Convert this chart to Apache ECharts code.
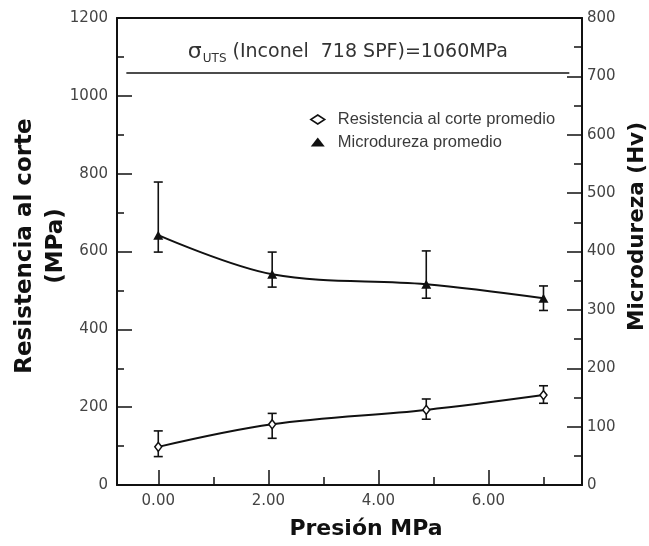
<!DOCTYPE html>
<html>
<head>
<meta charset="utf-8">
<script src="https://cdn.jsdelivr.net/npm/echarts@6/dist/echarts.min.js"></script>
<style>html,body{margin:0;padding:0;background:#fff;}#c{width:649px;height:546px;}</style>
</head>
<body>
<div id="c"></div>
<script>
// ---- data ----
const pressure = [0, 2.07, 4.87, 7.0];               // MPa
const shearMean = [98, 156, 193, 231];               // MPa (left axis)
const shearLow  = [73, 120, 169, 210];
const shearHigh = [139, 184, 221, 255];
const hardMean = [428, 361, 344, 320];               // Hv (right axis)
const hardLow  = [399, 339, 320, 299];
const hardHigh = [519, 399, 401, 341];
const utsValue = 1060;
const utsLineX = [-0.58, 7.47];
const xMajorTicks = [0, 2, 4, 6];
const xMinorTicks = [1, 3, 5, 7];
const seriesNames = ['Resistencia al corte promedio', 'Microdureza promedio'];

const INK = '#111';
const TXT = '#3a3a3a';
const xMin = -0.75, xMax = 7.7;

const zip = (a, b) => a.map((v, i) => [v, b[i]]);
const errData = (lo, hi) => pressure.map((x, i) => [x, lo[i], hi[i]]);

function errRender(params, api) {
  const x = api.value(0);
  const pLo = api.coord([x, api.value(1)]);
  const pHi = api.coord([x, api.value(2)]);
  const w = 4.5;
  const st = { stroke: INK, lineWidth: 1.6 };
  return {
    type: 'group',
    children: [
      { type: 'line', shape: { x1: pLo[0], y1: pLo[1], x2: pHi[0], y2: pHi[1] }, style: st },
      { type: 'line', shape: { x1: pLo[0] - w, y1: pLo[1], x2: pLo[0] + w, y2: pLo[1] }, style: st },
      { type: 'line', shape: { x1: pHi[0] - w, y1: pHi[1], x2: pHi[0] + w, y2: pHi[1] }, style: st }
    ]
  };
}

const tickFont = { fontFamily: 'DejaVu Sans', fontSize: 15, color: '#444' };
const nameFont = { fontFamily: 'DejaVu Sans', fontWeight: 'bold', fontSize: 22, color: '#111' };

const chart = echarts.init(document.getElementById('c'), null, { renderer: 'canvas' });
chart.setOption({
  animation: false,
  backgroundColor: '#fff',
  grid: { left: 117, right: 67, top: 18, bottom: 61, containLabel: false, outerBoundsMode: 'none' },
  legend: {
    orient: 'vertical',
    left: 310, top: 110.5, padding: 0,
    itemWidth: 14, itemHeight: 9, itemGap: 4.5,
    symbolKeepAspect: true,
    textStyle: { fontFamily: 'Liberation Sans', fontSize: 16.5, color: TXT, lineHeight: 18, padding: [0, 0, 0, 8] },
    data: [
      { name: seriesNames[0], icon: 'diamond', itemStyle: { color: '#fff', borderColor: INK, borderWidth: 1.5 } },
      { name: seriesNames[1], icon: 'triangle', itemStyle: { color: INK } }
    ]
  },
  xAxis: [
    {
      type: 'value', min: xMin, max: xMax, position: 'bottom',
      name: 'Presión MPa', nameLocation: 'middle', nameGap: 33, nameMoveOverlap: false,
      nameTextStyle: Object.assign({}, nameFont, { padding: [0, 0, 0, 33] }),
      axisLine: { show: true, onZero: false, lineStyle: { color: INK, width: 2 } },
      axisTick: { show: true, inside: true, length: 15, customValues: xMajorTicks, lineStyle: { color: INK, width: 1.5 } },
      axisLabel: Object.assign({ margin: 9, customValues: xMajorTicks, formatter: v => v.toFixed(2) }, tickFont),
      splitLine: { show: false }
    },
    {
      type: 'value', min: xMin, max: xMax, position: 'bottom',
      axisLine: { show: false },
      axisTick: { show: true, inside: true, length: 8, customValues: xMinorTicks, lineStyle: { color: INK, width: 1.5 } },
      axisLabel: { show: false },
      splitLine: { show: false }
    },
    {
      type: 'value', min: xMin, max: xMax, position: 'top',
      axisLine: { show: true, onZero: false, lineStyle: { color: INK, width: 2 } },
      axisTick: { show: false }, axisLabel: { show: false }, splitLine: { show: false }
    }
  ],
  yAxis: [
    {
      type: 'value', min: 0, max: 1200, interval: 200, position: 'left',
      name: 'Resistencia al corte\n(MPa)', nameLocation: 'middle', nameGap: 45, nameRotate: 90, nameMoveOverlap: false,
      nameTextStyle: Object.assign({}, nameFont, { fontSize: 23, lineHeight: 31, padding: [0, 0, 0, 11] }),
      axisLine: { show: true, onZero: false, lineStyle: { color: INK, width: 2 } },
      axisTick: { show: true, inside: true, length: 15, lineStyle: { color: INK, width: 1.5 } },
      minorTick: { show: true, splitNumber: 2, length: 7, lineStyle: { color: INK, width: 1.5 } },
      axisLabel: Object.assign({ margin: 9, formatter: v => String(v) }, tickFont),
      splitLine: { show: false }, minorSplitLine: { show: false }
    },
    {
      type: 'value', min: 0, max: 800, interval: 100, position: 'right',
      name: 'Microdureza (Hv)', nameLocation: 'middle', nameGap: 40, nameRotate: 90,
      nameTextStyle: Object.assign({}, nameFont, { fontSize: 21.5, padding: [0, 0, 0, 50] }),
      axisLine: { show: true, onZero: false, lineStyle: { color: INK, width: 2 } },
      axisTick: { show: true, inside: true, length: 15, lineStyle: { color: INK, width: 1.5 } },
      minorTick: { show: true, splitNumber: 2, length: 8, lineStyle: { color: INK, width: 1.5 } },
      axisLabel: Object.assign({ margin: 5, formatter: v => String(v) }, tickFont),
      splitLine: { show: false }, minorSplitLine: { show: false }
    }
  ],
  series: [
    {
      type: 'custom', name: 'shearErr', xAxisIndex: 0, yAxisIndex: 0, z: 2,
      renderItem: errRender, data: errData(shearLow, shearHigh), silent: true
    },
    {
      type: 'custom', name: 'hardErr', xAxisIndex: 0, yAxisIndex: 1, z: 2,
      renderItem: errRender, data: errData(hardLow, hardHigh), silent: true
    },
    {
      type: 'line', name: seriesNames[0], xAxisIndex: 0, yAxisIndex: 0, z: 3,
      data: zip(pressure, shearMean), smooth: 0.35,
      symbol: 'diamond', symbolSize: [7, 9], showSymbol: true,
      itemStyle: { color: '#fff', borderColor: INK, borderWidth: 1.5 },
      lineStyle: { color: INK, width: 2 },
      markLine: {
        silent: true, symbol: ['none', 'none'],
        lineStyle: { color: INK, width: 1.5, type: 'solid' },
        label: {
          show: true, position: 'insideMiddleTop', distance: 8,
          formatter: '{s|σ}{sub|UTS}{t| (Inconel  718 SPF)=1060MPa}',
          rich: {
            s: { fontFamily: 'DejaVu Sans', fontSize: 22, color: '#333', verticalAlign: 'middle', lineHeight: 24 },
            sub: { fontFamily: 'DejaVu Sans', fontSize: 12, color: '#333', verticalAlign: 'bottom', lineHeight: 24, padding: [0, 0, 0, 1] },
            t: { fontFamily: 'DejaVu Sans', fontSize: 19, color: '#333', verticalAlign: 'middle', lineHeight: 24 }
          }
        },
        data: [[{ coord: [utsLineX[0], utsValue] }, { coord: [utsLineX[1], utsValue] }]]
      }
    },
    {
      type: 'line', name: seriesNames[1], xAxisIndex: 0, yAxisIndex: 1, z: 3,
      data: zip(pressure, hardMean), smooth: 0.35,
      symbol: 'triangle', symbolSize: [10, 9], showSymbol: true,
      itemStyle: { color: INK },
      lineStyle: { color: INK, width: 2 }
    }
  ]
});
</script>
</body>
</html>
